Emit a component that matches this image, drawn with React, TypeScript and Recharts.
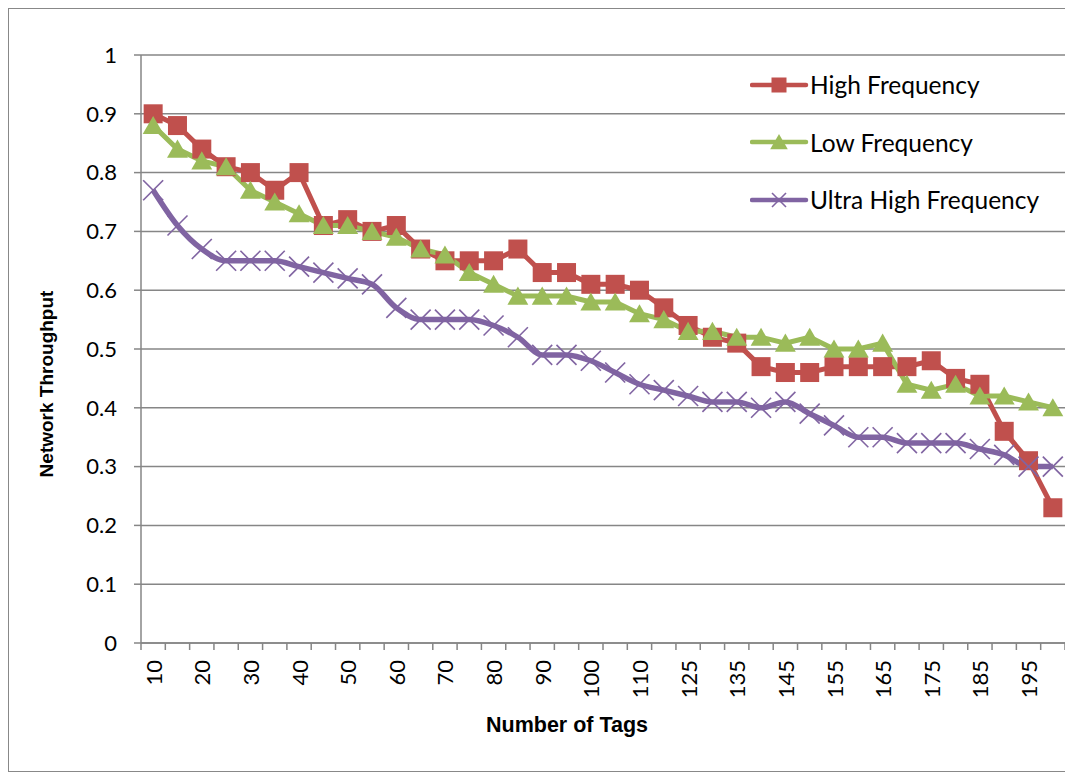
import React from "react";
import { LineChart, Line, XAxis, YAxis, CartesianGrid } from "recharts";

// number of tags on the x axis (one value between 110 and 125 is never labelled)
const tags = [
  10, 15, 20, 25, 30, 35, 40, 45, 50, 55, 60, 65, 70, 75, 80, 85, 90, 95, 100,
  105, 110, 120, 125, 130, 135, 140, 145, 150, 155, 160, 165, 170, 175, 180,
  185, 190, 195, 200,
];

const highFreq = [
  0.9, 0.88, 0.84, 0.81, 0.8, 0.77, 0.8, 0.71, 0.72, 0.7, 0.71, 0.67, 0.65,
  0.65, 0.65, 0.67, 0.63, 0.63, 0.61, 0.61, 0.6, 0.57, 0.54, 0.52, 0.51, 0.47,
  0.46, 0.46, 0.47, 0.47, 0.47, 0.47, 0.48, 0.45, 0.44, 0.36, 0.31, 0.23,
];

const lowFreq = [
  0.88, 0.84, 0.82, 0.81, 0.77, 0.75, 0.73, 0.71, 0.71, 0.7, 0.69, 0.67, 0.66,
  0.63, 0.61, 0.59, 0.59, 0.59, 0.58, 0.58, 0.56, 0.55, 0.53, 0.53, 0.52, 0.52,
  0.51, 0.52, 0.5, 0.5, 0.51, 0.44, 0.43, 0.44, 0.42, 0.42, 0.41, 0.4,
];

const ultraHighFreq = [
  0.77, 0.71, 0.67, 0.65, 0.65, 0.65, 0.64, 0.63, 0.62, 0.61, 0.57, 0.55, 0.55,
  0.55, 0.54, 0.52, 0.49, 0.49, 0.48, 0.46, 0.44, 0.43, 0.42, 0.41, 0.41, 0.4,
  0.41, 0.39, 0.37, 0.35, 0.35, 0.34, 0.34, 0.34, 0.33, 0.32, 0.3, 0.3,
];

const yTicks = [0, 0.1, 0.2, 0.3, 0.4, 0.5, 0.6, 0.7, 0.8, 0.9, 1];

const data = tags.map((t, i) => ({
  tags: String(t),
  high: highFreq[i],
  low: lowFreq[i],
  ultra: ultraHighFreq[i],
}));

const RED = "#C0504D";
const GREEN = "#9BBB59";
const PURPLE = "#8064A2";
const GRID = "#868686";
const LABEL_FONT = "Lato, 'Open Sans', sans-serif";
const TITLE_FONT = "'Liberation Sans', Arial, sans-serif";

const squareShape = (cx: number, cy: number, s = 19) => (
  <rect x={cx - s / 2} y={cy - s / 2} width={s} height={s} fill={RED} />
);
const triangleShape = (cx: number, cy: number, s = 19) => (
  <polygon
    points={`${cx},${cy - s * 0.5} ${cx + s * 0.55},${cy + s * 0.45} ${cx - s * 0.55},${cy + s * 0.45}`}
    fill={GREEN}
  />
);
const crossShape = (cx: number, cy: number, s = 10) => (
  <g stroke={PURPLE} strokeWidth={1.6}>
    <line x1={cx - s} y1={cy - s} x2={cx + s} y2={cy + s} />
    <line x1={cx - s} y1={cy + s} x2={cx + s} y2={cy - s} />
  </g>
);

const SquareDot = (p: any) => <g key={`sq-${p.index}`}>{squareShape(p.cx, p.cy)}</g>;
const TriangleDot = (p: any) => <g key={`tr-${p.index}`}>{triangleShape(p.cx, p.cy)}</g>;
const CrossDot = (p: any) => <g key={`cr-${p.index}`}>{crossShape(p.cx, p.cy)}</g>;

// excel-like category axis: tick marks between categories, label every second one
const XTick = (props: any) => {
  const { x, y, payload, index, visibleTicksCount } = props;
  const half = payload.offset || 0;
  const last = index === visibleTicksCount - 1;
  return (
    <g>
      <line x1={x - half} x2={x - half} y1={y} y2={y + 7} stroke={GRID} strokeWidth={1.5} />
      {last && (
        <line x1={x + half} x2={x + half} y1={y} y2={y + 7} stroke={GRID} strokeWidth={1.5} />
      )}
      {index % 2 === 0 && (
        <text
          x={x}
          y={y + 17}
          transform={`rotate(-90, ${x}, ${y + 17})`}
          textAnchor="end"
          dominantBaseline="central"
          fontSize={22}
          fontFamily={LABEL_FONT}
          fill="#000"
        >
          {payload.value}
        </text>
      )}
    </g>
  );
};

const XTitle = (props: any) => {
  const { viewBox } = props;
  const cx = viewBox.x + viewBox.width / 2 - 36;
  return (
    <text
      x={cx}
      y={viewBox.y + 82}
      textAnchor="middle"
      dominantBaseline="central"
      fontFamily={TITLE_FONT}
      fontWeight="bold"
      fontSize={21.5}
      fill="#000"
    >
      Number of Tags
    </text>
  );
};

const YTitle = (props: any) => {
  const { viewBox } = props;
  const cx = viewBox.x + 37;
  const cy = viewBox.y + viewBox.height / 2 + 35;
  return (
    <text
      x={cx}
      y={cy}
      transform={`rotate(-90, ${cx}, ${cy})`}
      textAnchor="middle"
      dominantBaseline="central"
      fontFamily={TITLE_FONT}
      fontWeight="bold"
      fontSize={19}
      fill="#000"
    >
      Network Throughput
    </text>
  );
};

const legendItems = [
  { name: "High Frequency", color: RED, marker: (cx: number, cy: number) => squareShape(cx, cy, 15) },
  { name: "Low Frequency", color: GREEN, marker: (cx: number, cy: number) => triangleShape(cx, cy, 16) },
  { name: "Ultra High Frequency", color: PURPLE, marker: (cx: number, cy: number) => crossShape(cx, cy, 7) },
];

export default function App() {
  return (
    <div style={{ width: 1062, height: 762, border: "1px solid #888", position: "relative" }}>
      <LineChart
        width={1062}
        height={762}
        data={data}
        margin={{ top: 46, right: 6, left: 0, bottom: 0 }}
      >
        <CartesianGrid vertical={false} stroke={GRID} strokeWidth={1.5} />
        <XAxis
          dataKey="tags"
          scale="band"
          interval={0}
          height={128}
          tickSize={0}
          tickMargin={0}
          tickLine={false}
          axisLine={{ stroke: GRID, strokeWidth: 1.5 }}
          tick={<XTick />}
          label={<XTitle />}
        />
        <YAxis
          width={132}
          domain={[0, 1]}
          ticks={yTicks}
          tickSize={7}
          tickMargin={17}
          tickLine={{ stroke: GRID, strokeWidth: 1.5 }}
          axisLine={{ stroke: GRID, strokeWidth: 1.5 }}
          tick={{ fontFamily: LABEL_FONT, fontSize: 22, fill: "#000" }}
          label={<YTitle />}
        />
        <Line
          type="linear"
          dataKey="high"
          name="High Frequency"
          stroke={RED}
          strokeWidth={5}
          dot={SquareDot}
          isAnimationActive={false}
        />
        <Line
          type="linear"
          dataKey="low"
          name="Low Frequency"
          stroke={GREEN}
          strokeWidth={5}
          dot={TriangleDot}
          isAnimationActive={false}
        />
        <Line
          type="monotone"
          dataKey="ultra"
          name="Ultra High Frequency"
          stroke={PURPLE}
          strokeWidth={5.5}
          dot={CrossDot}
          isAnimationActive={false}
        />
      </LineChart>
      <div style={{ position: "absolute", top: 47, left: 741 }}>
        {legendItems.map((it) => (
          <div key={it.name} style={{ display: "flex", alignItems: "center", height: 57.5 }}>
            <svg width={60} height={24} style={{ display: "block" }}>
              <line x1={2} x2={56} y1={12} y2={12} stroke={it.color} strokeWidth={4.5} strokeLinecap="round" />
              {it.marker(29, 12)}
            </svg>
            <span style={{ fontFamily: LABEL_FONT, fontSize: 24.5, color: "#000", whiteSpace: "nowrap" }}>
              {it.name}
            </span>
          </div>
        ))}
      </div>
    </div>
  );
}
